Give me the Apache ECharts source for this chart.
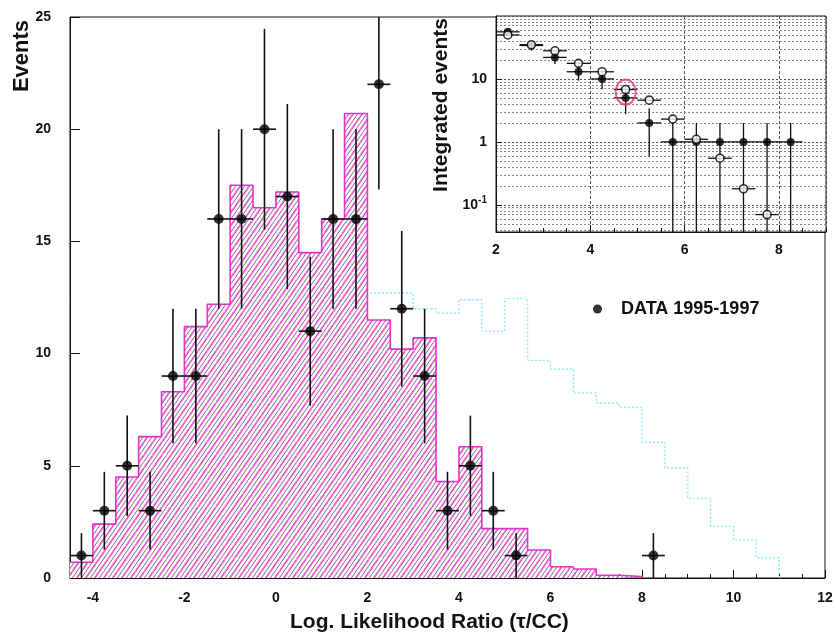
<!DOCTYPE html>
<html>
<head>
<meta charset="utf-8">
<script src="https://cdn.jsdelivr.net/npm/echarts@6/dist/echarts.min.js"></script>
<style>
  html, body { margin: 0; padding: 0; background: #fff; }
  #chart { width: 836px; height: 639px; }
</style>
</head>
<body>
<div id="chart"></div>
<script>
// ---- Histogram binning (0.5 wide bins) ----
const binWidth = 0.5;
const bgStart = -4.5;   // expected background, hatched
const bgCounts = [0.7, 2.4, 4.5, 6.3, 8.3, 11.2, 12.2, 17.5, 16.5, 17.2, 14.5, 16.0, 20.7,
                  11.5, 10.2, 10.7, 4.3, 5.85, 2.2, 2.2, 1.25, 0.5, 0.4, 0.12, 0.07];
const sigStart = -4.5;  // tau signal expectation, dotted cyan
const sigCounts = [0.05, 0.05, 0.2, 0.5, 0.9, 1.4, 2.8, 4.2, 5.7, 7.2, 9.0, 10.3, 11.6,
                   12.7, 12.7, 12.0, 11.8, 12.4, 11.0, 12.45, 9.7, 9.3, 8.25, 7.8, 7.6,
                   6.05, 4.9, 3.55, 2.3, 1.7, 0.9];

// ---- Data points (bin centres, event counts) ----
const dataX = [-4.25, -3.75, -3.25, -2.75, -2.25, -1.75, -1.25, -0.75, -0.25, 0.25, 0.75,
               1.25, 1.75, 2.25, 2.75, 3.25, 3.75, 4.25, 4.75, 5.25, 8.25];
const dataN = [1, 3, 5, 3, 9, 9, 16, 16, 20, 17, 11, 16, 16, 22, 12, 9, 3, 5, 3, 1, 1];

// ---- Inset: integrated events above each cut ----
const intX = [2.25, 2.75, 3.25, 3.75, 4.25, 4.75, 5.25, 5.75, 6.25, 6.75, 7.25, 7.75, 8.25];
const intData = [56, 34, 22, 13, 10, 5, 2, 1, 1, 1, 1, 1, 1];
const intMcX = [2.25, 2.75, 3.25, 3.75, 4.25, 4.75, 5.25, 5.75, 6.25, 6.75, 7.25, 7.75];
const intMc = [50, 35, 28, 17.7, 13, 6.8, 4.6, 2.3, 1.1, 0.55, 0.18, 0.07];
const circledX = [4.75];
const circledY = [6.2];

// ---- Tick labels ----
const mainXLabels = [-4, -2, 0, 2, 4, 6, 8, 10, 12];
const mainYLabels = [0, 5, 10, 15, 20, 25];
const insetXLabels = [2, 4, 6, 8];
const insetYLabels = [0.1, 1, 10];

const FONT = "'Liberation Sans', Arial, Helvetica, sans-serif";
const MAIN_Y_MAX = 25, INSET_Y_MIN = 0.037, INSET_Y_MAX = 100;

// step-line points at the left edge of each bin, closed at the right edge
function stepPoints(start, counts) {
  const pts = counts.map((c, i) => [start + i * binWidth, c]);
  pts.push([start + counts.length * binWidth, 0]);
  return pts;
}

// hatch: magenta and dark diagonal stripes on white
function hatchPattern() {
  const w = 9, h = 13;
  const cv = document.createElement('canvas');
  cv.width = w; cv.height = h;
  const ctx = cv.getContext('2d');
  ctx.fillStyle = '#ffffff';
  ctx.fillRect(0, 0, w, h);
  function stripe(off, color, lw) {
    ctx.strokeStyle = color; ctx.lineWidth = lw;
    for (let k = -1; k <= 1; k++) {
      ctx.beginPath();
      ctx.moveTo(off + k * w, h);
      ctx.lineTo(off + k * w + w, 0);
      ctx.stroke();
    }
  }
  stripe(0, '#f05ad6', 1.8);
  stripe(4.5, '#5a4a56', 0.8);
  return cv;
}

function errorBars(xs, ys, errs, halfW) {
  return xs.map((x, i) => [x, ys[i], errs ? errs[i] : 0, halfW]);
}

function errRenderer(yMin, yMax, lw) {
  return function (params, api) {
    const x = api.value(0), y = api.value(1), e = api.value(2), hw = api.value(3);
    const children = [];
    if (e > 0) {
      const lo = Math.max(y - e, yMin), hi = Math.min(y + e, yMax);
      const p0 = api.coord([x, lo > 0 ? lo : yMin]), p1 = api.coord([x, hi]);
      children.push({ type: 'line', shape: { x1: p0[0], y1: p0[1], x2: p1[0], y2: p1[1] },
                      style: { stroke: '#111', lineWidth: lw } });
    }
    const pl = api.coord([x - hw, y]), pr = api.coord([x + hw, y]);
    children.push({ type: 'line', shape: { x1: pl[0], y1: pl[1], x2: pr[0], y2: pr[1] },
                    style: { stroke: '#111', lineWidth: lw } });
    return { type: 'group', children };
  };
}

// Poisson errors on observed counts
const dataErr = dataN.map(n => Math.sqrt(n));
const intErr = intData.map(n => Math.sqrt(n));

// dashed log grid lines (2..9 x 10^k) for the inset
const insetGridLines = [];
for (let k = -2; k <= 1; k++) {
  for (let m = 2; m <= 9; m++) {
    const v = m * Math.pow(10, k);
    if (v > INSET_Y_MIN && v < INSET_Y_MAX) insetGridLines.push({ yAxis: v });
  }
}

const labelStyle = { fontFamily: FONT, fontWeight: 'bold', fontSize: 14, color: '#111' };

const chart = echarts.init(document.getElementById('chart'), null, { renderer: 'canvas' });

chart.setOption({
  animation: false,
  backgroundColor: '#fff',
  grid: [
    { left: 70, top: 17, right: 11, bottom: 61, show: true, borderColor: '#111', borderWidth: 1,
      backgroundColor: 'transparent' },
    { left: 496, top: 16, right: 10, bottom: 407, show: true, borderColor: '#111', borderWidth: 1,
      backgroundColor: '#fff', z: 5 }
  ],
  legend: {
    data: [{ name: 'DATA 1995-1997', icon: 'circle' }],
    left: 593, top: 300, padding: 0, itemWidth: 9, itemHeight: 9,
    textStyle: { fontFamily: FONT, fontWeight: 'bold', fontSize: 18, color: '#111',
                 padding: [0, 0, 0, 14] },
    selectedMode: false
  },
  xAxis: [
    { // main: labels and minor ticks every 0.5
      type: 'value', gridIndex: 0, position: 'bottom', min: -4.5, max: 12, interval: 0.5,
      axisLine: { onZero: false, lineStyle: { color: '#111', width: 1 } },
      axisTick: { inside: true, length: 4, lineStyle: { color: '#111' } },
      axisLabel: Object.assign({}, labelStyle, { margin: 13,
        formatter: v => (mainXLabels.indexOf(v) >= 0 ? String(v) : '') }),
      splitLine: { show: false }
    },
    { // main: longer major ticks
      type: 'value', gridIndex: 0, position: 'bottom', min: -4.5, max: 12, splitNumber: 8,
      axisLine: { show: false, onZero: false },
      axisTick: { inside: true, length: 8, lineStyle: { color: '#111' } },
      axisLabel: { show: false }, splitLine: { show: false }
    },
    { // inset minor ticks
      type: 'value', gridIndex: 1, position: 'bottom', min: 2, max: 9, interval: 0.5,
      axisLine: { onZero: false, lineStyle: { color: '#111' } },
      axisTick: { inside: true, length: 4, lineStyle: { color: '#111' } },
      axisLabel: { show: false }, splitLine: { show: false }, z: 6
    },
    { // inset major ticks, labels and vertical grid
      type: 'value', gridIndex: 1, position: 'bottom', min: 2, max: 9, interval: 2,
      axisLine: { show: false, onZero: false },
      axisTick: { inside: true, length: 7, lineStyle: { color: '#111' } },
      axisLabel: Object.assign({}, labelStyle, { margin: 11, showMaxLabel: false,
        formatter: v => (insetXLabels.indexOf(v) >= 0 ? String(v) : '') }),
      splitLine: { show: true, lineStyle: { color: '#555', type: [3, 2], width: 1 } }, z: 6
    }
  ],
  yAxis: [
    {
      type: 'value', gridIndex: 0, position: 'left', min: 0, max: MAIN_Y_MAX, interval: 5,
      axisLine: { show: true, onZero: false, lineStyle: { color: '#111' } },
      axisTick: { show: true, inside: true, length: 10, lineStyle: { color: '#111' } },
      axisLabel: Object.assign({}, labelStyle, { margin: 19,
        formatter: v => (mainYLabels.indexOf(v) >= 0 ? String(v) : '') }),
      splitLine: { show: false }
    },
    {
      type: 'log', gridIndex: 1, position: 'left', logBase: 10, min: INSET_Y_MIN, max: INSET_Y_MAX,
      axisLine: { show: true, onZero: false, lineStyle: { color: '#111' } },
      axisTick: { show: true, inside: true, length: 6, lineStyle: { color: '#111' } },
      axisLabel: {
        margin: 9, showMinLabel: false, showMaxLabel: false,
        formatter: function (v) {
          for (const t of insetYLabels) {
            if (Math.abs(v - t) < 1e-9 * Math.max(1, t)) {
              return t < 1 ? '{b|10}{s|-1}' : '{b|' + t + '}';
            }
          }
          return '';
        },
        rich: {
          b: { fontFamily: FONT, fontWeight: 'bold', fontSize: 14, color: '#111' },
          s: { fontFamily: FONT, fontWeight: 'bold', fontSize: 10, color: '#111',
               verticalAlign: 'top', padding: [0, 0, 10, 0] }
        }
      },
      splitLine: { show: true, lineStyle: { color: '#555', type: [2, 2], width: 1 } }, z: 6
    }
  ],
  series: [
    { // tau signal expectation
      name: 'signal', type: 'line', xAxisIndex: 0, yAxisIndex: 0, step: 'end',
      data: stepPoints(sigStart, sigCounts), showSymbol: false, symbol: 'none', z: 1,
      lineStyle: { color: '#8aeef0', width: 1.4, type: [2, 2] }
    },
    { // expected background, hatched
      name: 'background', type: 'line', xAxisIndex: 0, yAxisIndex: 0, step: 'end',
      data: stepPoints(bgStart, bgCounts), showSymbol: false, symbol: 'none', z: 2,
      lineStyle: { color: '#e332c8', width: 1.6 },
      areaStyle: { color: { image: hatchPattern(), repeat: 'repeat' }, opacity: 1 }
    },
    {
      name: 'dataErr', type: 'custom', xAxisIndex: 0, yAxisIndex: 0, z: 3,
      renderItem: errRenderer(0, MAIN_Y_MAX, 1.6),
      encode: { x: 0, y: 1 },
      data: errorBars(dataX, dataN, dataErr, binWidth / 2)
    },
    {
      name: 'DATA 1995-1997', type: 'scatter', xAxisIndex: 0, yAxisIndex: 0, z: 4,
      symbol: 'circle', symbolSize: 10, itemStyle: { color: '#000' },
      data: dataX.map((x, i) => [x, dataN[i]])
    },
    // ---- inset ----
    {
      name: 'mcErr', type: 'custom', xAxisIndex: 2, yAxisIndex: 1, z: 7,
      renderItem: errRenderer(INSET_Y_MIN, INSET_Y_MAX, 1.3),
      encode: { x: 0, y: 1 },
      data: errorBars(intMcX, intMc, null, binWidth / 2)
    },
    {
      name: 'intErr', type: 'custom', xAxisIndex: 2, yAxisIndex: 1, z: 7,
      renderItem: errRenderer(INSET_Y_MIN, INSET_Y_MAX, 1.3),
      encode: { x: 0, y: 1 },
      data: errorBars(intX, intData, intErr, binWidth / 2)
    },
    {
      name: 'intData', type: 'scatter', xAxisIndex: 2, yAxisIndex: 1, z: 8,
      symbol: 'circle', symbolSize: 8, itemStyle: { color: '#000' },
      data: intX.map((x, i) => [x, intData[i]])
    },
    {
      name: 'intMc', type: 'scatter', xAxisIndex: 2, yAxisIndex: 1, z: 9,
      symbol: 'circle', symbolSize: 8,
      itemStyle: { color: '#fff', borderColor: '#000', borderWidth: 1.6 },
      data: intMcX.map((x, i) => [x, intMc[i]]),
      markLine: {
        silent: true, symbol: 'none', label: { show: false }, z: 6,
        lineStyle: { color: '#888', type: [2, 2], width: 1 },
        data: insetGridLines
      }
    },
    {
      name: 'circled', type: 'scatter', xAxisIndex: 2, yAxisIndex: 1, z: 10,
      symbol: 'circle', symbolSize: [20, 25],
      itemStyle: { color: 'rgba(0,0,0,0)', borderColor: '#e8337f', borderWidth: 2 },
      data: circledX.map((x, i) => [x, circledY[i]])
    }
  ],
  graphic: [
    { type: 'text', left: 440 - 150, top: 612, z: 20,
      style: { text: 'Log. Likelihood Ratio (\u03C4/CC)', width: 300, align: 'center',
               fontFamily: FONT, fontWeight: 'bold', fontSize: 21, fill: '#111' } },
    { type: 'text', x: 22, y: 56, rotation: Math.PI / 2, z: 20,
      style: { text: 'Events', align: 'center', verticalAlign: 'middle',
               fontFamily: FONT, fontWeight: 'bold', fontSize: 22, fill: '#111' } },
    { type: 'text', x: 441, y: 105, rotation: Math.PI / 2, z: 20,
      style: { text: 'Integrated events', align: 'center', verticalAlign: 'middle',
               fontFamily: FONT, fontWeight: 'bold', fontSize: 21, fill: '#111' } }
  ]
});
</script>
</body>
</html>
